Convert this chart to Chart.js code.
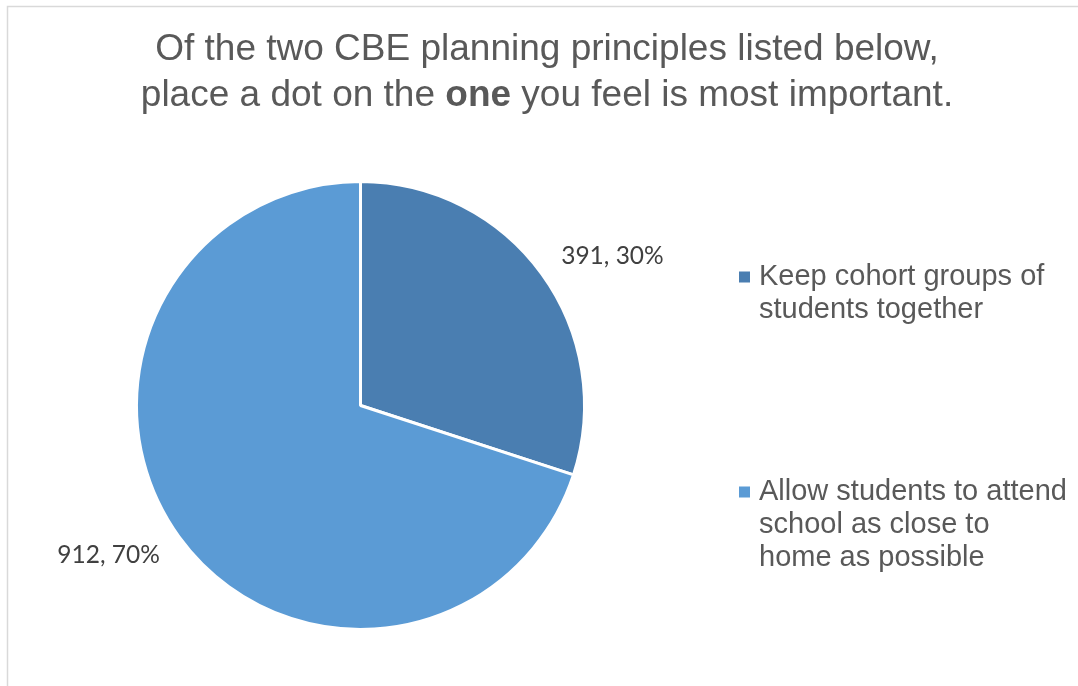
<!DOCTYPE html>
<html>
<head>
<meta charset="utf-8">
<script src="https://cdn.jsdelivr.net/npm/chart.js@4/dist/chart.umd.min.js"></script>
<style>
  html, body { margin: 0; padding: 0; background: #ffffff; }
  #wrap { width: 1078px; height: 686px; position: relative; }
  canvas { display: block; }
</style>
</head>
<body>
<div id="wrap"><canvas id="chart" width="1078" height="686"></canvas></div>
<script>
// Survey answers: which planning principle matters most
const categories = [
  ["Keep cohort groups of", "students together"],
  ["Allow students to attend", "school as close to", "home as possible"]
];
const counts = [391, 912];
const sliceColors = ["#4a7eb1", "#5b9bd5"];

// Title runs (the word "one" is emphasised)
const titleLines = [
  [{ text: "Of the two CBE planning principles listed below,", bold: false }],
  [
    { text: "place a dot on the ", bold: false },
    { text: "one", bold: true },
    { text: " you feel is most important.", bold: false }
  ]
];

const TEXT_GREY = "#595959";
const LABEL_GREY = "#404040";
const SANS = "'Liberation Sans', Arial, sans-serif";

// Light frame around the chart and white background
const framePlugin = {
  id: "frame",
  beforeDraw(chart) {
    const ctx = chart.ctx;
    ctx.save();
    ctx.fillStyle = "#ffffff";
    ctx.fillRect(0, 0, chart.width, chart.height);
    ctx.strokeStyle = "#d9d9d9";
    ctx.lineWidth = 1.5;
    ctx.beginPath();
    ctx.moveTo(7.5, chart.height + 2);
    ctx.lineTo(7.5, 6.5);
    ctx.lineTo(chart.width + 2, 6.5);
    ctx.stroke();
    ctx.restore();
  }
};

// Two-line title with mixed weights, centred above the plot
const richTitlePlugin = {
  id: "richTitle",
  afterDraw(chart) {
    const ctx = chart.ctx;
    const size = 37;
    const cx = 547;
    const baselines = [60, 106];
    ctx.save();
    ctx.fillStyle = TEXT_GREY;
    ctx.textBaseline = "alphabetic";
    ctx.textAlign = "left";
    titleLines.forEach((runs, i) => {
      let total = 0;
      runs.forEach(r => {
        ctx.font = (r.bold ? "bold " : "") + size + "px " + SANS;
        r.w = ctx.measureText(r.text).width;
        total += r.w;
      });
      let x = cx - total / 2;
      runs.forEach(r => {
        ctx.font = (r.bold ? "bold " : "") + size + "px " + SANS;
        ctx.fillText(r.text, x, baselines[i]);
        x += r.w;
      });
    });
    ctx.restore();
  }
};

// "value, percent" labels just outside each slice
const outsideLabelsPlugin = {
  id: "outsideLabels",
  afterDatasetsDraw(chart) {
    const ctx = chart.ctx;
    const meta = chart.getDatasetMeta(0);
    const values = chart.data.datasets[0].data;
    const total = values.reduce((a, b) => a + b, 0);
    ctx.save();
    ctx.font = "24.5px Lato, 'Open Sans', sans-serif";
    ctx.fillStyle = LABEL_GREY;
    ctx.textAlign = "center";
    ctx.textBaseline = "middle";
    meta.data.forEach((arc, i) => {
      const p = arc.getProps(["x", "y", "startAngle", "endAngle", "outerRadius"], true);
      const mid = (p.startAngle + p.endAngle) / 2;
      const dx = Math.cos(mid), dy = Math.sin(mid);
      const r = p.outerRadius + 24;
      const text = values[i] + ", " + Math.round(values[i] / total * 100) + "%";
      const w = ctx.measureText(text).width;
      const h = 24;
      const ax = p.x + dx * r;
      const ay = p.y + dy * r;
      const tx = ax + Math.sign(dx) * w / 2;
      const ty = ay + dy * h / 4;
      ctx.fillText(text, tx, ty);
    });
    ctx.restore();
  }
};

// Legend on the right with multi-line entries
const sideLegendPlugin = {
  id: "sideLegend",
  afterDraw(chart) {
    const ctx = chart.ctx;
    const colors = chart.data.datasets[0].backgroundColor;
    const boxX = 739, textX = 759, box = 11;
    const firstBaselines = [285, 500];
    const lineGap = 33;
    ctx.save();
    ctx.font = "29px " + SANS;
    ctx.textAlign = "left";
    ctx.textBaseline = "alphabetic";
    chart.data.labels.forEach((lines, i) => {
      const b0 = firstBaselines[i];
      ctx.fillStyle = colors[i];
      ctx.fillRect(boxX, b0 - 13.5, box, box);
      ctx.fillStyle = TEXT_GREY;
      lines.forEach((ln, j) => ctx.fillText(ln, textX, b0 + j * lineGap));
    });
    ctx.restore();
  }
};

new Chart(document.getElementById("chart"), {
  type: "pie",
  data: {
    labels: categories,
    datasets: [{
      data: counts,
      backgroundColor: sliceColors,
      borderColor: "#ffffff",
      borderWidth: 3
    }]
  },
  options: {
    responsive: false,
    devicePixelRatio: 1,
    animation: false,
    layout: { padding: { left: 135, right: 492, top: 180, bottom: 55 } },
    plugins: {
      legend: { display: false },
      title: { display: false },
      tooltip: { enabled: false }
    }
  },
  plugins: [framePlugin, richTitlePlugin, outsideLabelsPlugin, sideLegendPlugin]
});
</script>
</body>
</html>
